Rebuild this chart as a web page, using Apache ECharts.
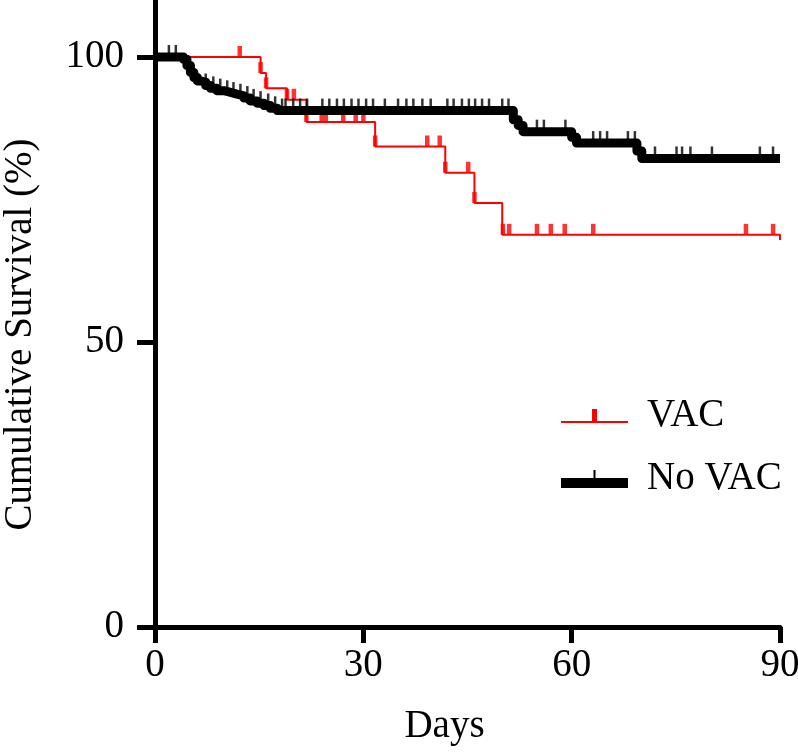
<!DOCTYPE html>
<html><head><meta charset="utf-8">
<script src="https://cdn.jsdelivr.net/npm/echarts@6/dist/echarts.min.js"></script>
<style>html,body{margin:0;padding:0;background:#fff}#c{width:798px;height:753px}</style>
</head><body><div id="c"></div>
<script>
// Axis ticks
const xTicks = [0, 30, 60, 90];
const yTicks = [0, 50, 100];

// VAC group: Kaplan-Meier steps [day, survival %]
const vacCurve = [[0,100],[15.2,97.2],[16.0,94.5],[19.0,92.5],[21.8,88.6],[31.7,84.3],[41.8,79.7],[46.0,74.4],[50.0,68.8],[90,67.9]];
// VAC censored days
const vacCensor = [12.2,15.2,16.0,19.0,20.0,21.8,24.0,24.6,27.1,28.9,30.0,31.7,39.2,41.0,41.8,45.1,46.0,50.1,51.0,55.0,57.0,59.0,63.1,85.1,89.0];

// No VAC group: Kaplan-Meier steps [day, survival %]
const noVacCurve = [[0,100],[4.1,99.6],[4.6,98.5],[5.1,97.3],[5.6,96.4],[6.1,95.8],[6.5,95.6],[7.3,95.0],[8.0,94.5],[8.9,94.1],[9.9,93.8],[10.9,93.5],[11.8,93.2],[12.8,92.8],[13.7,92.3],[14.7,91.9],[15.7,91.5],[16.6,91.0],[17.6,90.6],[51.6,89.0],[52.3,88.0],[53.0,86.9],[60.0,85.9],[60.7,84.9],[69.4,83.5],[70.1,82.2],[90,82.2]];
// No VAC censored days
const noVacCensor = [2,3,7.3,8.4,9.4,10.4,11.3,12.3,13.3,14.2,15.2,16.3,17.3,18.3,18.8,19.9,20.9,21.9,24.1,25.1,26.2,27.2,28.3,29.3,30.4,31.4,33.1,35,36.2,37.2,38.5,39.7,42.1,43,44.2,45.2,46.1,47.1,48.1,50,50.9,55,56,59.1,63.1,64.1,65.1,68.1,69.1,72,75.1,75.9,77.1,80.2,87.1,89];

const FONT = 'Liberation Serif';
function survivalAt(curve, t) {
  let s = curve[0][1];
  for (const p of curve) { if (p[0] <= t + 1e-9) s = p[1]; else break; }
  return s;
}

const chart = echarts.init(document.getElementById('c'), null, {renderer: 'canvas'});
chart.setOption({
  animation: false,
  backgroundColor: '#fff',
  grid: {left: 155, right: 18, top: 0, bottom: 126, outerBoundsMode: 'none', containLabel: false},
  legend: {
    orient: 'vertical', left: 561, top: 394, padding: 0,
    itemWidth: 67, itemHeight: 18, itemGap: 19,
    itemStyle: {borderWidth: 0},
    textStyle: {fontFamily: FONT, fontSize: 39, color: '#000', lineHeight: 44, padding: [0,0,0,14]},
    data: [
      {name: 'VAC', icon: 'path://M0,12H67V14H0Z M31,0H36V12H31Z'},
      {name: 'No VAC', icon: 'path://M0,8H67V18H0Z M32.5,0H34.5V8H32.5Z'}
    ]
  },
  xAxis: {
    type: 'value', min: xTicks[0], max: xTicks[xTicks.length-1], interval: 30,
    axisLine: {lineStyle: {color: '#000', width: 5}},
    axisTick: {length: 16, lineStyle: {color: '#000', width: 5}},
    axisLabel: {fontFamily: FONT, fontSize: 39, color: '#000', margin: 19},
    splitLine: {show: false},
    name: 'Days', nameLocation: 'middle', nameGap: 80,
    nameTextStyle: {fontFamily: FONT, fontSize: 39, color: '#000', padding: [0,46,0,0]}
  },
  yAxis: {
    type: 'value', min: 0, max: 110, interval: 50,
    axisLine: {lineStyle: {color: '#000', width: 5}},
    axisTick: {length: 18, lineStyle: {color: '#000', width: 5}, customValues: yTicks},
    axisLabel: {fontFamily: FONT, fontSize: 39, color: '#000', margin: 31, customValues: yTicks},
    splitLine: {show: false},
    name: 'Cumulative Survival (%)', nameLocation: 'middle', nameGap: 115,
    nameTextStyle: {fontFamily: FONT, fontSize: 39, color: '#000', padding: [0,42,0,0]}
  },
  series: [
    {name: 'VAC', type: 'line', step: 'end', data: vacCurve, showSymbol: false, silent: true,
     lineStyle: {color: '#ff0000', width: 2}, itemStyle: {color: '#ff0000'}, z: 2},
    {name: 'VAC censored', type: 'scatter', silent: true, z: 3,
     data: vacCensor.map(t => [t, survivalAt(vacCurve, t)]),
     symbol: 'rect', symbolSize: [4.5, 11], symbolOffset: [0, '-50%'], itemStyle: {color: '#ff0000'}},
    {name: 'No VAC', type: 'line', step: 'end', data: noVacCurve, showSymbol: false, silent: true,
     lineStyle: {color: '#000', width: 9, join: 'round'}, itemStyle: {color: '#000'}, z: 4},
    {name: 'No VAC censored', type: 'scatter', silent: true, z: 5,
     data: noVacCensor.map(t => [t, survivalAt(noVacCurve, t)]),
     symbol: 'rect', symbolSize: [2.5, 12], symbolOffset: [0, '-50%'], itemStyle: {color: '#000'}}
  ]
});
</script></body></html>
